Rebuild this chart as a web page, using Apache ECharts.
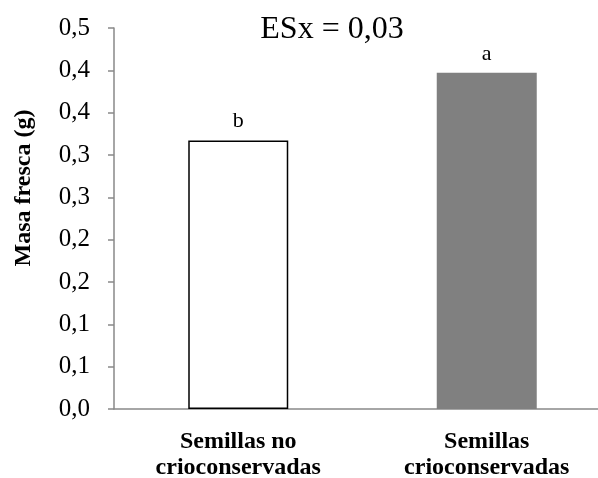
<!DOCTYPE html>
<html>
<head>
<meta charset="utf-8">
<script src="https://cdn.jsdelivr.net/npm/echarts@6/dist/echarts.min.js"></script>
<style>html,body{margin:0;padding:0;background:#fff}#c{width:598px;height:478px}</style>
</head>
<body>
<div id="c"></div>
<script>
var categories = ['Semillas no\ncrioconservadas', 'Semillas\ncrioconservadas'];
var values = [0.317, 0.397];
var letters = ['b', 'a'];
var tickLabels = ['0,0','0,1','0,1','0,2','0,2','0,3','0,3','0,4','0,4','0,5'];
var barColors = ['#ffffff', '#808080'];
var barBorders = ['#000000', '#808080'];

var chart = echarts.init(document.getElementById('c'), null, {renderer: 'canvas'});
var font = '"Liberation Serif", "Times New Roman", serif';
chart.setOption({
  animation: false,
  backgroundColor: '#ffffff',
  title: {
    text: 'ESx = 0,03', left: 327, top: 9, textAlign: 'center',
    textStyle: {fontFamily: font, fontSize: 32, fontWeight: 'normal', color: '#000'}
  },
  graphic: [{
    type: 'text', x: 24, y: 188, rotation: Math.PI / 2,
    style: {text: 'Masa fresca (g)', fontFamily: font, fontSize: 24, fontWeight: 'bold',
      fill: '#000', align: 'center', verticalAlign: 'middle'}
  }],
  grid: {left: 114, right: -13, top: 28, bottom: 69, containLabel: false, outerBoundsMode: 'none'},
  xAxis: {
    type: 'category', data: categories,
    axisLine: {lineStyle: {color: '#898989', width: 1.5}},
    axisTick: {show: false},
    axisLabel: {fontFamily: font, fontSize: 24, fontWeight: 'bold', color: '#000', margin: 20, lineHeight: 26}
  },
  yAxis: {
    type: 'value', min: 0, max: 0.45, interval: 0.05,
    axisLine: {show: true, lineStyle: {color: '#898989', width: 1.5}},
    axisTick: {show: true, length: 6, lineStyle: {color: '#898989', width: 1.5}},
    splitLine: {show: false},
    axisLabel: {
      fontFamily: font, fontSize: 25, color: '#000', margin: 24,
      formatter: function (v) { return tickLabels[Math.round(v / 0.05)]; }
    }
  },
  series: [{
    type: 'bar', barWidth: 100,
    data: values.map(function (v, i) {
      return {value: v, itemStyle: {color: barColors[i], borderColor: barBorders[i], borderWidth: i === 0 ? 1.5 : 0},
        label: {show: true, position: 'top', distance: 8, formatter: letters[i],
          fontFamily: font, fontSize: 22, color: '#000'}};
    })
  }]
});
</script>
</body>
</html>
